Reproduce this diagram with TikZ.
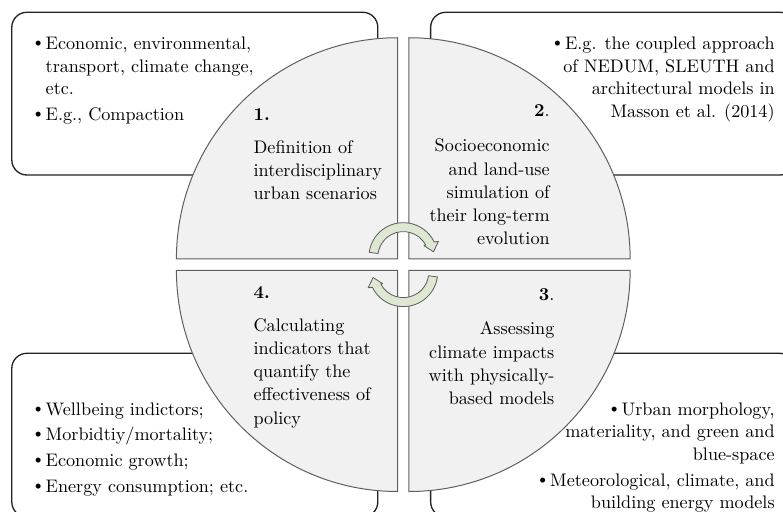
\documentclass[tikz,border=0pt]{standalone}

\definecolor{quadfill}{RGB}{241,241,241}
\definecolor{quadline}{RGB}{95,95,95}
\definecolor{cyclefill}{RGB}{221,231,209}
\definecolor{boxline}{RGB}{35,35,35}

\newcommand{\itemdot}{\raisebox{1.8pt}{\scriptsize$\bullet$}\hspace{2.5pt}}

\begin{document}
\begin{tikzpicture}[
    note box/.style={draw=boxline, thick, rounded corners=0.32cm},
    quadrant/.style={draw=quadline, fill=quadfill, line width=0.6pt},
    cycle arrow/.style={draw=quadline, fill=cyclefill, line width=0.5pt, line join=round},
    step text/.style={inner sep=0pt, text width=3.2cm, font=\fontsize{10.95}{14}\selectfont},
    note text/.style={inner sep=0pt, font=\fontsize{10.95}{13.6}\selectfont}]

    \useasboundingbox (-8.55,-5.23) rectangle (8.05,5.61);

    % Ramki z przykladami (pod kolem)
    \draw[note box] (-8.30,1.90) rectangle (-0.54,5.35);
    \draw[note box] (0.58,1.90) rectangle (8.30,5.35);
    \draw[note box] (-8.30,-5.35) rectangle (-0.54,-1.88);
    \draw[note box] (0.58,-5.35) rectangle (8.30,-1.88);

    % Cwiartki kola
    \draw[quadrant] (-0.12,0.12) -- ++(-4.69,0) arc[start angle=180, end angle=90, radius=4.69] -- cycle;
    \draw[quadrant] (0.12,0.12) -- ++(0,4.69) arc[start angle=90, end angle=0, radius=4.69] -- cycle;
    \draw[quadrant] (0.12,-0.12) -- ++(4.69,0) arc[start angle=0, end angle=-90, radius=4.69] -- cycle;
    \draw[quadrant] (-0.12,-0.12) -- ++(0,-4.69) arc[start angle=270, end angle=180, radius=4.69] -- cycle;

    % Strzalki cyklu
    \draw[cycle arrow, shift={(0,0.16)}] (172:0.73) arc[start angle=172, end angle=26, radius=0.73]
        -- (24:0.815) -- (10:0.65) -- (29:0.50) -- (28:0.54) arc[start angle=28, end angle=172, radius=0.54] -- cycle;
    \draw[cycle arrow, rotate=180, shift={(0,0.16)}] (172:0.73) arc[start angle=172, end angle=26, radius=0.73]
        -- (24:0.815) -- (10:0.65) -- (29:0.50) -- (28:0.54) arc[start angle=28, end angle=172, radius=0.54] -- cycle;

    % Etapy
    \node[step text, anchor=base west, align=left] (scenarios) at (-3.18,3.06)
        {\textbf{1.}\\[6pt] Definition of\\ interdisciplinary\\ urban scenarios};
    \node[step text, anchor=base east, align=right] (simulation) at (3.11,3.13)
        {\textbf{2}.\\[7pt] Socioeconomic\\ and land-use\\ simulation of\\ their long-term\\ evolution};
    \node[step text, anchor=base east, align=right] (impacts) at (3.21,-0.75)
        {\textbf{3}.\\[7pt] Assessing\\ climate impacts\\ with physically-\\ based models};
    \node[step text, anchor=base west, align=left] (indicators) at (-3.18,-0.71)
        {\textbf{4.}\\[6pt] Calculating\\ indicators that\\ quantify the\\ effectiveness of\\ policy};

    % Przyklady
    \node[note text, anchor=base west] (scenario notes) at (-7.82,4.56)
        {\begin{tabular}[t]{@{}l@{\hspace{2.5pt}}l@{}}
            \itemdot & Economic, environmental,\\
                     & transport, climate change,\\
                     & etc.\\[2pt]
            \itemdot & E.g., Compaction
        \end{tabular}};
    \node[note text, anchor=base east] (simulation notes) at (7.88,4.56)
        {\begin{tabular}[t]{@{}r@{}}
            \itemdot E.g. the coupled approach\\
            of NEDUM, SLEUTH and\\
            architectural models in\\
            Masson et al. (2014)
        \end{tabular}};
    \node[note text, anchor=base east] (impact notes) at (7.88,-3.19)
        {\begin{tabular}[t]{@{}r@{}}
            \itemdot Urban morphology,\\
            materiality, and green and\\
            blue-space\\[2pt]
            \itemdot Meteorological, climate, and\\
            building energy models
        \end{tabular}};
    \node[note text, anchor=base west] (indicator notes) at (-7.82,-3.19)
        {\begin{tabular}[t]{@{}l@{\hspace{2.5pt}}l@{}}
            \itemdot & Wellbeing indictors;\\[2pt]
            \itemdot & Morbidtiy/mortality;\\[2pt]
            \itemdot & Economic growth;\\[2pt]
            \itemdot & Energy consumption; etc.
        \end{tabular}};
\end{tikzpicture}
\end{document}
